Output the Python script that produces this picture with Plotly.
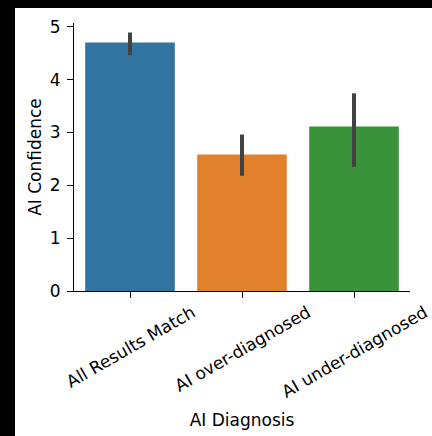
import plotly.graph_objects as go

# Mean AI confidence per diagnosis outcome, with 95% CI bounds
categories = ["All Results Match", "AI over-diagnosed", "AI under-diagnosed"]
mean_confidence = [4.70, 2.58, 3.11]
ci_upper = [4.89, 2.96, 3.74]
ci_lower = [4.46, 2.18, 2.35]
bar_colors = ["#3274a1", "#e1812c", "#3a923a"]
y_ticks = [0, 1, 2, 3, 4, 5]

W, H = 432, 436
ML, MR, MT, MB = 74, 22, 23, 145
FONT = "DejaVu Sans"
FS = 17

err_plus = [u - m for u, m in zip(ci_upper, mean_confidence)]
err_minus = [m - l for m, l in zip(mean_confidence, ci_lower)]

fig = go.Figure(
    go.Bar(
        x=categories,
        y=mean_confidence,
        width=0.8,
        marker=dict(color=bar_colors, line=dict(width=0)),
        error_y=dict(
            type="data",
            symmetric=False,
            array=err_plus,
            arrayminus=err_minus,
            color="#424242",
            thickness=4,
            width=0,
        ),
    )
)

# Rotated category labels centred under each tick
for c in categories:
    fig.add_annotation(
        x=c, xref="x", y=0, yref="paper",
        text=c, showarrow=False, textangle=-30,
        xanchor="center", yanchor="top", yshift=-8,
        font=dict(family=FONT, size=FS, color="black"),
    )

# White figure face inset from a black frame on the left and top
pw = W - ML - MR
ph = H - MT - MB
y_base = H - MB  # pixel row of the x axis
fig.add_shape(
    type="rect", xref="paper", yref="paper", layer="below",
    x0=(15 - ML) / pw, x1=(W - ML) / pw,
    y0=(y_base - H) / ph, y1=(y_base - 8) / ph,
    fillcolor="white", line=dict(width=0),
)

fig.update_layout(
    width=W, height=H,
    margin=dict(l=ML, r=MR, t=MT, b=MB, pad=0),
    paper_bgcolor="black",
    plot_bgcolor="white",
    showlegend=False,
    font=dict(family=FONT, size=FS, color="black"),
    xaxis=dict(
        type="category",
        range=[-0.5, 2.5],
        showticklabels=False,
        ticks="outside", ticklen=6, tickwidth=1.2, tickcolor="black",
        showline=True, linecolor="black", linewidth=1.2,
        showgrid=False, zeroline=False,
        title=dict(text="AI Diagnosis", standoff=116,
                   font=dict(family=FONT, size=FS, color="black")),
    ),
    yaxis=dict(
        range=[0, 5.07],
        tickvals=y_ticks,
        ticks="outside", ticklen=6, tickwidth=1.2, tickcolor="black",
        ticklabelstandoff=3,
        showline=True, linecolor="black", linewidth=1.2,
        showgrid=False, zeroline=False,
        tickfont=dict(family=FONT, size=FS, color="black"),
        title=dict(text="AI Confidence", standoff=3,
                   font=dict(family=FONT, size=FS, color="black")),
    ),
)

fig.write_html("out.html")
